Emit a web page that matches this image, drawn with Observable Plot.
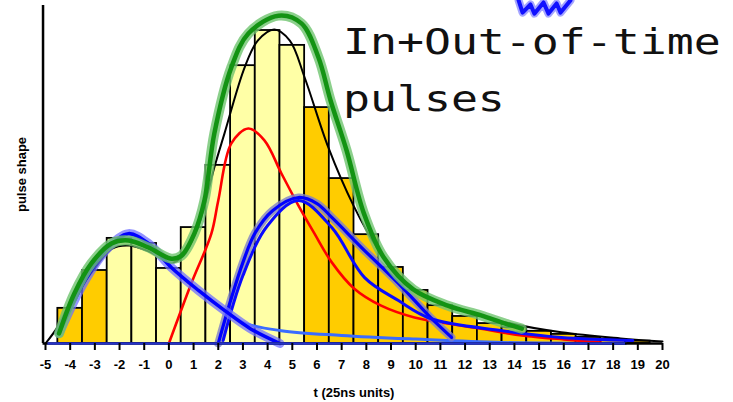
<!DOCTYPE html>
<html><head><meta charset="utf-8">
<script src="https://cdn.jsdelivr.net/npm/d3@7"></script>
<script src="https://cdn.jsdelivr.net/npm/@observablehq/plot@0.6"></script>
<style>
body{margin:0;background:#fff;}
#wrap{position:relative;width:733px;height:402px;overflow:hidden;background:#fff}
.ttl{position:absolute;left:343px;font-family:"DejaVu Sans Mono",monospace;font-size:35px;line-height:35px;transform-origin:0 0;transform:scaleX(1.28);white-space:nowrap;color:#111}
</style></head>
<body><div id="wrap"></div>
<script>
// ---- data ----
const xTicks = [-5,-4,-3,-2,-1,0,1,2,3,4,5,6,7,8,9,10,11,12,13,14,15,16,17,18,19,20];
const binT = [-4,-3,-2,-1,0,1,2,3,4,5,6,7,8,9,10,11,12,13,14,15,16,17,18,19];
const binH = [10.4,21.6,31.1,29.6,22.2,34.3,52.7,82.2,92.6,88.2,69.8,48.8,32.2,22.5,15.7,11.2,8.0,5.9,4.7,3.6,2.7,1.8,1.2,0.7];
const binKind = ["out","out","in","in","in","in","in","in","in","in","out","out","out","out","out","out","out","out","out","out","out","out","out","out"];

const fitT = [-5,-4.5,-4,-3,-2.3,-1.6,-0.8,0.1,0.6,1.2,1.84,2.25,3.07,3.6,4.27,4.9,5.5,6.46,7.48,8.5,9.5,10.5,11.45,13.5,15.9,18.3,20];
const fitY = [0,5.0,12.1,22.2,28.1,29.0,27.2,23.9,26.0,34.9,52.1,62.1,81.7,89.6,92.9,89.6,78.7,58.0,40.8,27.5,17.8,13.6,10.9,6.5,3.3,1.5,0.6];

const totalT = [-4.45,-3.83,-3.14,-2.33,-1.64,-0.83,0.1,0.51,1.03,1.44,1.84,2.53,3.22,4.44,5.37,6.06,6.55,7.2,7.9,8.7,9.9,11.3,12.65,13.5,14.3];
const totalY = [3.0,14.8,23.7,29.6,30.5,28.4,25.1,26.0,32.5,42.3,62.1,81.7,91.7,97.0,94.7,84.6,71.9,57.1,38.5,25.5,16.0,11.2,8.3,6.2,4.4];

const inTimeT = [0,0.91,1.72,2.0,2.53,3.22,3.87,4.56,5.25,5.9,6.6,7.5,8.6,9.95,11.3,12.65,13.5,14.3,16,17.5];
const inTimeY = [0,17.8,32.5,42.3,59.2,63.6,60.1,50.3,40.8,32.5,24.0,16.3,11.2,7.7,5.9,4.4,3.3,2.4,1.2,0.3];

const earlyT = [-4.45,-3.4,-2.45,-1.64,-0.83,0.1,1.2,2.25,3.3,4.5];
const earlyY = [3.0,18.6,28.4,32.5,29.6,22.5,15.7,9.8,4.4,0];

const earlyTailT = [2.3,3.0,4.55,7,10,13.5,18.5];
const earlyTailY = [9.8,6.2,3.8,2.4,1.3,0.3,0];

const lateT = [2.0,2.5,3.0,3.5,4.2,5.25,6.0,6.6,7.93,9.3,10.6,11.45];
const lateY = [0,12.7,24.0,32.8,39.3,43.2,41.4,37.3,27.5,17.8,7.7,1.8];

const late2T = [2.2,3.0,4.0,5.25,6.6,7.93,9.3,10.6,13.5,15.9,18.8];
const late2Y = [0.9,20.1,34.9,42.3,34.3,19.5,12.7,7.4,3.8,1.8,0.9];

// hand-drawn blue scribble at the top edge (clipped in the original)
const scribT = [14.17,14.33,14.65,14.81,15.18,15.38,15.71,15.87,16.27];
const scribY = [101.5,97.9,100.3,97.6,100.9,97.6,100.6,97.9,101.5];

const kindColor = {in: "#ffffa6", out: "#ffcc00"};

// ---- build tables ----
const bins = binT.map((t, i) => ({t, h: binH[i], kind: binKind[i]}));
const pts = (T, Y) => T.map((t, i) => ({t, y: Y[i]}));
const fit = pts(fitT, fitY), total = pts(totalT, totalY), inTime = pts(inTimeT, inTimeY);
const early = pts(earlyT, earlyY), earlyTail = pts(earlyTailT, earlyTailY);
const late = pts(lateT, lateY), late2 = pts(late2T, late2Y), scrib = pts(scribT, scribY);
const L = (data, o) => Plot.line(data, {x: "t", y: "y", curve: "catmull-rom", strokeLinecap: "round", strokeLinejoin: "round", ...o});

const chart = Plot.plot({
  width: 733, height: 402,
  marginLeft: 45, marginRight: 71, marginTop: 5, marginBottom: 59,
  x: {domain: [-5, 20], axis: null},
  y: {domain: [0, 100], axis: null},
  style: {fontFamily: "'Liberation Sans', Arial, sans-serif", background: "#fff"},
  marks: [
    Plot.rect(bins, {x1: d => d.t - 0.5, x2: d => d.t + 0.5, y1: 0, y2: "h", fill: d => kindColor[d.kind], stroke: "#000", strokeWidth: 1.8}),
    L(fit, {stroke: "#000", strokeWidth: 2}),
    L(earlyTail, {stroke: "#3a6cff", strokeWidth: 3}),
    L(inTime, {stroke: "#ff0000", strokeWidth: 2.6}),
    L(late, {stroke: "#7f7fc8", strokeWidth: 8, strokeOpacity: 0.8}),
    L(late, {stroke: "#0000ff", strokeWidth: 3.2}),
    L(late2, {stroke: "#0a0aff", strokeWidth: 3}),
    L(early, {stroke: "#6f6fff", strokeWidth: 9, strokeOpacity: 0.75}),
    L(early, {stroke: "#0000ff", strokeWidth: 3.5}),
    L(total, {stroke: "#6fc46f", strokeWidth: 10, strokeOpacity: 0.8}),
    L(total, {stroke: "#139313", strokeWidth: 4.5}),
    L(scrib, {stroke: "#8f8fff", strokeWidth: 8, strokeOpacity: 0.8, curve: "linear"}),
    L(scrib, {stroke: "#1212ff", strokeWidth: 4, curve: "linear"}),
    Plot.ruleX([-5.1], {y1: 0, y2: 100, stroke: "#000", strokeWidth: 2.5}),
    Plot.ruleY([0], {x1: -5.1, x2: 20, stroke: "#000", strokeWidth: 2.5}),
    Plot.ruleY([0], {x1: -4.9, x2: 18.5, stroke: "#2633c8", strokeWidth: 2.5}),
    Plot.axisX({ticks: xTicks, tickSize: 7, tickPadding: 9, strokeWidth: 2, fontSize: 13, fontWeight: "bold", label: null, tickFormat: d => String(d)}),
    Plot.text(["t (25ns units)"], {frameAnchor: "bottom", dy: 49, fontSize: 13, fontWeight: "bold", lineAnchor: "middle", textAnchor: "middle"}),
    Plot.text(["pulse shape"], {frameAnchor: "left", dx: -24, rotate: -90, fontSize: 13, fontWeight: "bold", lineAnchor: "middle", textAnchor: "middle"})
  ]
});
const wrap = document.getElementById("wrap");
wrap.appendChild(chart);
chart.style.position = "absolute"; chart.style.left = "0"; chart.style.top = "0";
const t1 = document.createElement("div"); t1.className = "ttl"; t1.style.top = "25px"; t1.textContent = "In+Out-of-time"; wrap.appendChild(t1);
const t2 = document.createElement("div"); t2.className = "ttl"; t2.style.top = "82px"; t2.textContent = "pulses"; wrap.appendChild(t2);
</script>
</body></html>
